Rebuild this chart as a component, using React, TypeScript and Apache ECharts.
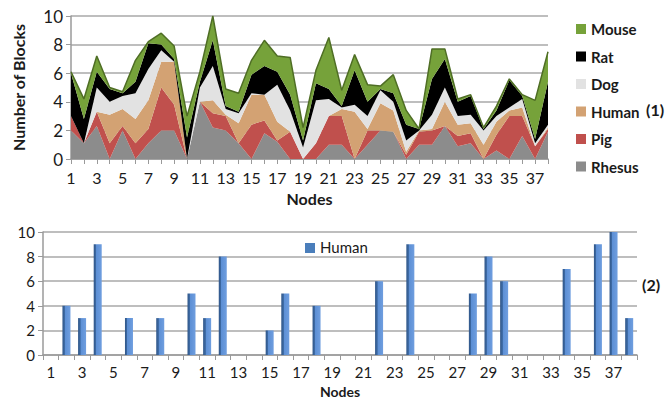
import React, { useEffect, useRef } from "react";
import * as echarts from "echarts";

const nodes = ["1","2","3","4","5","6","7","8","9","10","11","12","13","14","15","16","17","18","19","20","21","22","23","24","25","26","27","28","29","30","31","32","33","34","35","36","37","38"];

// Top chart (1): stacked blocks per species
const rhesus = [2,1.1,2.3,0,2,0,1.1,2,2,0,4,2.2,2,1.1,0,1.8,1.2,0,0,0,1,1,0,1,2,1.9,0,1,1,2.3,0.9,1.1,0,0.6,0,1.6,0,1.9];
const pig = [1,0,1,1.1,0.3,1.1,1,3,1.8,0,0,1,1,0,2.4,0.9,0.1,1.9,0,1.1,2,2,0,1,0,0,0.3,0.9,1,0,0.7,0.7,0,1.1,3,1.4,0.9,0.2];
const human = [0,0,0,2,1.2,1.7,2,1.8,3,0,0,0.9,0.1,1.4,2.1,1.8,1.3,0,0,0,0,0.5,3.3,0.1,1.9,1.5,0.2,0.1,0.1,1.7,0.8,0.7,1,0.9,0.4,0.6,0,0.1];
const dog = [0,0,1.7,0.9,0.9,1.8,2.2,0.8,0,0,1,2.4,0.4,0.7,0.1,0,2.6,1.5,0.8,3,1.2,0.1,0.5,0.9,0.9,0.6,0.8,0,1,1,0.6,0.6,1,0.4,0.2,0.6,0.2,0.2];
const rat = [3,1.7,1.1,0.9,0.2,0.8,1.8,0.4,0.2,1.5,0.4,1.8,0.2,0.1,1.3,2,0.9,1.1,0.5,1.2,0.7,0.1,2.4,1,0.1,0.6,1.1,0.1,2.5,2,1,1.3,0.1,0.4,1.9,0.2,0.3,3];
const mouse = [0.1,1.4,1.1,0.1,0.1,1.5,0.1,0.8,0.9,1.5,0.7,1.7,1.2,1.3,1,1.8,1.1,2.6,0.9,0.9,3.6,1.1,1.1,1.2,0.2,1.3,1,0,2.1,0.7,0.2,0.1,0.1,0.3,0.1,0.1,2.7,2.1];

// Bottom chart (2): Human blocks
const humanBlocks = [0,4,3,9,0,3,0,3,0,5,3,8,0,0,2,5,0,4,0,0,0,6,0,9,0,0,0,5,8,6,0,0,0,7,0,9,10,3];

const yTicks = [0, 2, 4, 6, 8, 10];

const FONT = "Lato, 'Open Sans', sans-serif";

export default function App() {
  const ref = useRef<HTMLDivElement>(null);
  useEffect(() => {
    if (!ref.current) return;
    const chart = echarts.init(ref.current, undefined, { renderer: "svg" });
    const layers = [
      { name: "Rhesus", data: rhesus, color: "#8C8C8C" },
      { name: "Pig", data: pig, color: "#C0504D" },
      { name: "Human", data: human, color: "#D3A273" },
      { name: "Dog", data: dog, color: "#E2E2E2" },
      { name: "Rat", data: rat, color: "#000000" },
      { name: "Mouse", data: mouse, color: "#76A23A" },
    ];
    const areaSeries = layers.map((l) => ({
      type: "line",
      name: l.name,
      stack: "total",
      data: l.data,
      xAxisIndex: 0,
      yAxisIndex: 0,
      symbol: "none",
      itemStyle: { color: l.color },
      lineStyle: l.name === "Mouse" ? { width: 1.5, color: "#4F6E25" } : { width: 0 },
      areaStyle: { color: l.color, opacity: 1 },
    }));
    const axisLine = { show: true, lineStyle: { color: "#9A9A9A", width: 1.5 } };
    const gridLine = { show: true, lineStyle: { color: "#A8A8A8", width: 1.5 } };
    chart.setOption({
      animation: false,
      backgroundColor: "#ffffff",
      textStyle: { fontFamily: FONT },
      grid: [
        { left: 71, top: 16, width: 477, height: 143 },
        { left: 43, top: 232, width: 594, height: 124 },
      ],
      legend: {
        orient: "vertical",
        left: 571,
        top: 16,
        icon: "rect",
        itemWidth: 10,
        itemHeight: 10,
        itemGap: 11.5,
        data: ["Mouse", "Rat", "Dog", "Human", "Pig", "Rhesus"],
        textStyle: { fontFamily: FONT, fontSize: 15, fontWeight: "bold", color: "#1A1A1A", lineHeight: 16 },
      },
      xAxis: [
        {
          type: "category",
          gridIndex: 0,
          data: nodes,
          boundaryGap: false,
          axisLine,
          axisTick: { show: true, interval: 0, length: 5, lineStyle: { color: "#9A9A9A" } },
          axisLabel: { interval: 1, fontSize: 16, color: "#1A1A1A", margin: 10, fontFamily: FONT },
          name: "Nodes",
          nameLocation: "middle",
          nameGap: 31,
          nameTextStyle: { fontSize: 16, fontWeight: "bold", color: "#1A1A1A", fontFamily: FONT },
        },
        {
          type: "category",
          gridIndex: 1,
          data: nodes,
          boundaryGap: true,
          axisLine,
          axisTick: { show: true, interval: 0, length: 5, lineStyle: { color: "#9A9A9A" } },
          axisLabel: { interval: 1, fontSize: 15, color: "#1A1A1A", margin: 9, fontFamily: FONT },
          name: "Nodes",
          nameLocation: "middle",
          nameGap: 29,
          nameTextStyle: { fontSize: 14, fontWeight: "bold", color: "#1A1A1A", fontFamily: FONT },
        },
      ],
      yAxis: [
        {
          type: "value",
          gridIndex: 0,
          min: yTicks[0],
          max: yTicks[yTicks.length - 1],
          interval: 2,
          axisLine,
          axisTick: { show: true, length: 5, lineStyle: { color: "#9A9A9A" } },
          splitLine: gridLine,
          axisLabel: { fontSize: 17, color: "#1A1A1A", margin: 8, fontFamily: FONT },
          name: "Number of Blocks",
          nameLocation: "middle",
          nameGap: 45,
          nameRotate: 90,
          nameTextStyle: { fontSize: 16, fontWeight: "bold", color: "#1A1A1A", fontFamily: FONT },
        },
        {
          type: "value",
          gridIndex: 1,
          min: yTicks[0],
          max: yTicks[yTicks.length - 1],
          interval: 2,
          axisLine,
          axisTick: { show: true, length: 5, lineStyle: { color: "#9A9A9A" } },
          splitLine: gridLine,
          axisLabel: { fontSize: 15, color: "#1A1A1A", margin: 8, fontFamily: FONT },
        },
      ],
      series: [
        ...areaSeries,
        {
          type: "bar",
          name: "Human blocks",
          data: humanBlocks,
          xAxisIndex: 1,
          yAxisIndex: 1,
          barWidth: 8,
          itemStyle: {
            color: new echarts.graphic.LinearGradient(0, 0, 1, 0, [
              { offset: 0, color: "#2F5587" },
              { offset: 0.3, color: "#3F6DA8" },
              { offset: 0.31, color: "#5B8ED4" },
              { offset: 1, color: "#6F9EDF" },
            ]),
          },
        },
      ],
      graphic: [
        { type: "text", left: 646, top: 101, style: { text: "(1)", fontSize: 16, fontWeight: "bold", fill: "#1A1A1A", fontFamily: FONT } },
        { type: "text", left: 642, top: 276, style: { text: "(2)", fontSize: 16, fontWeight: "bold", fill: "#1A1A1A", fontFamily: FONT } },
        { type: "rect", left: 305, top: 243, shape: { width: 10, height: 10 }, style: { fill: "#4A7EBB" } },
        { type: "text", left: 320, top: 239, style: { text: "Human", fontSize: 15, fill: "#1A1A1A", fontFamily: FONT } },
      ],
    });
    return () => chart.dispose();
  }, []);
  return <div ref={ref} style={{ position: "fixed", left: 0, top: 0, width: 668, height: 399 }} />;
}
